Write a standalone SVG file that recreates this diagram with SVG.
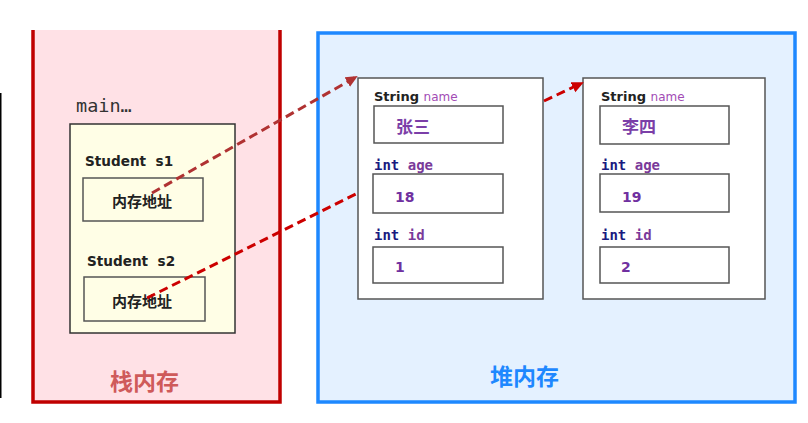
<svg xmlns="http://www.w3.org/2000/svg" width="808" height="423" viewBox="0 0 808 423">
<style>
.box{fill:#fff;stroke:#555;stroke-width:1.5}
.lbl{font-family:"DejaVu Sans","Noto Sans CJK SC",sans-serif;font-weight:bold;font-size:13px;fill:#222}
.nm{font-family:"DejaVu Sans",sans-serif;font-size:12px;fill:#a24bb5;font-weight:normal}
.mono{font-family:"DejaVu Sans Mono",monospace;font-weight:bold;font-size:14px}
.kw{fill:#1a1a80}
.fld{fill:#7a3a9a}
.val{font-family:"DejaVu Sans","Noto Sans CJK SC",sans-serif;font-weight:bold;font-size:14px;fill:#7030a0}
.cn{font-family:"Noto Sans CJK SC",sans-serif;font-weight:bold;font-size:17px;fill:#7b3fa8}
.cjk{font-family:"Noto Sans CJK SC",sans-serif;font-weight:bold}
.addr{font-family:"Noto Sans CJK SC",sans-serif;font-weight:bold;font-size:15px;fill:#222}
.dash{fill:none;stroke-width:3;stroke-dasharray:9,5}
</style>
<defs>
<marker id="ah1" markerWidth="12" markerHeight="12" refX="10" refY="6" orient="auto" markerUnits="userSpaceOnUse">
<path d="M0,0.5 L12,6 L0,11.5 Z" fill="#b03232"/>
</marker>
<marker id="ah2" markerWidth="12" markerHeight="12" refX="10" refY="6" orient="auto" markerUnits="userSpaceOnUse">
<path d="M0,0.5 L12,6 L0,11.5 Z" fill="#cc0000"/>
</marker>
</defs>
<rect width="808" height="423" fill="#fff"/>
<line x1="0.75" y1="93" x2="0.75" y2="398" stroke="#000" stroke-width="1.5"/>

<g id="stack">
<rect x="33" y="30" width="247" height="372" fill="#ffe1e6"/>
<path d="M33,30 V402 H280 V30" fill="none" stroke="#c00000" stroke-width="3.5"/>
<text x="110" y="390" class="cjk" style="font-size:23px" fill="#cf5a5a">栈内存</text>
</g>

<g id="heap">
<rect x="318" y="33" width="477" height="369" fill="#e4f1ff" stroke="#1e88ff" stroke-width="3.5"/>
<text x="490" y="385" class="cjk" style="font-size:23px" fill="#1e88ff">堆内存</text>
</g>

<g id="main">
<text x="76" y="112" font-family="DejaVu Sans Mono,monospace" font-size="18.5" fill="#333">main…</text>
<rect x="70" y="124" width="165" height="209" fill="#fffee6" stroke="#333" stroke-width="1.5"/>
</g>

<g id="s1">
<text x="85" y="166" class="lbl" style="font-size:13.6px" xml:space="preserve">Student  s1</text>
<rect x="83" y="178" width="120" height="43" fill="#fffee6" stroke="#555" stroke-width="1.5"/>
<text x="142" y="207" class="addr" text-anchor="middle">内存地址</text>
</g>

<g id="s2">
<text x="87" y="266" class="lbl" style="font-size:13.6px" xml:space="preserve">Student  s2</text>
<rect x="84" y="277" width="121" height="44" fill="#fffee6" stroke="#555" stroke-width="1.5"/>
<text x="142" y="307" class="addr" text-anchor="middle">内存地址</text>
</g>

<g id="obj1">
<rect x="358" y="78" width="185" height="221" class="box"/>
<text x="374" y="101" class="lbl">String <tspan class="nm">name</tspan></text>
<rect x="374" y="106" width="129" height="37" class="box"/>
<text x="396" y="133" class="cn">张三</text>
<text x="374" y="170" class="mono"><tspan class="kw">int</tspan> <tspan class="fld">age</tspan></text>
<rect x="373" y="174" width="130" height="39" class="box"/>
<text x="395" y="202" class="val">18</text>
<text x="374" y="240" class="mono"><tspan class="kw">int</tspan> <tspan class="fld">id</tspan></text>
<rect x="373" y="247" width="130" height="36" class="box"/>
<text x="395" y="272" class="val">1</text>
</g>

<g id="obj2">
<rect x="583" y="78" width="182" height="221" class="box"/>
<text x="601" y="101" class="lbl">String <tspan class="nm">name</tspan></text>
<rect x="600" y="106" width="129" height="38" class="box"/>
<text x="622" y="133" class="cn">李四</text>
<text x="601" y="170" class="mono"><tspan class="kw">int</tspan> <tspan class="fld">age</tspan></text>
<rect x="600" y="174" width="129" height="38" class="box"/>
<text x="622" y="202" class="val">19</text>
<text x="601" y="240" class="mono"><tspan class="kw">int</tspan> <tspan class="fld">id</tspan></text>
<rect x="600" y="247" width="129" height="36" class="box"/>
<text x="621" y="272" class="val">2</text>
</g>

<g id="connectors">
<line x1="152" y1="193" x2="356" y2="77" class="dash" stroke="#b03232" marker-end="url(#ah1)"/>
<line x1="147" y1="298" x2="358" y2="193" class="dash" stroke="#cc0000"/>
<line x1="544" y1="101" x2="582" y2="83" class="dash" stroke="#cc0000" marker-end="url(#ah2)"/>
</g>
</svg>
